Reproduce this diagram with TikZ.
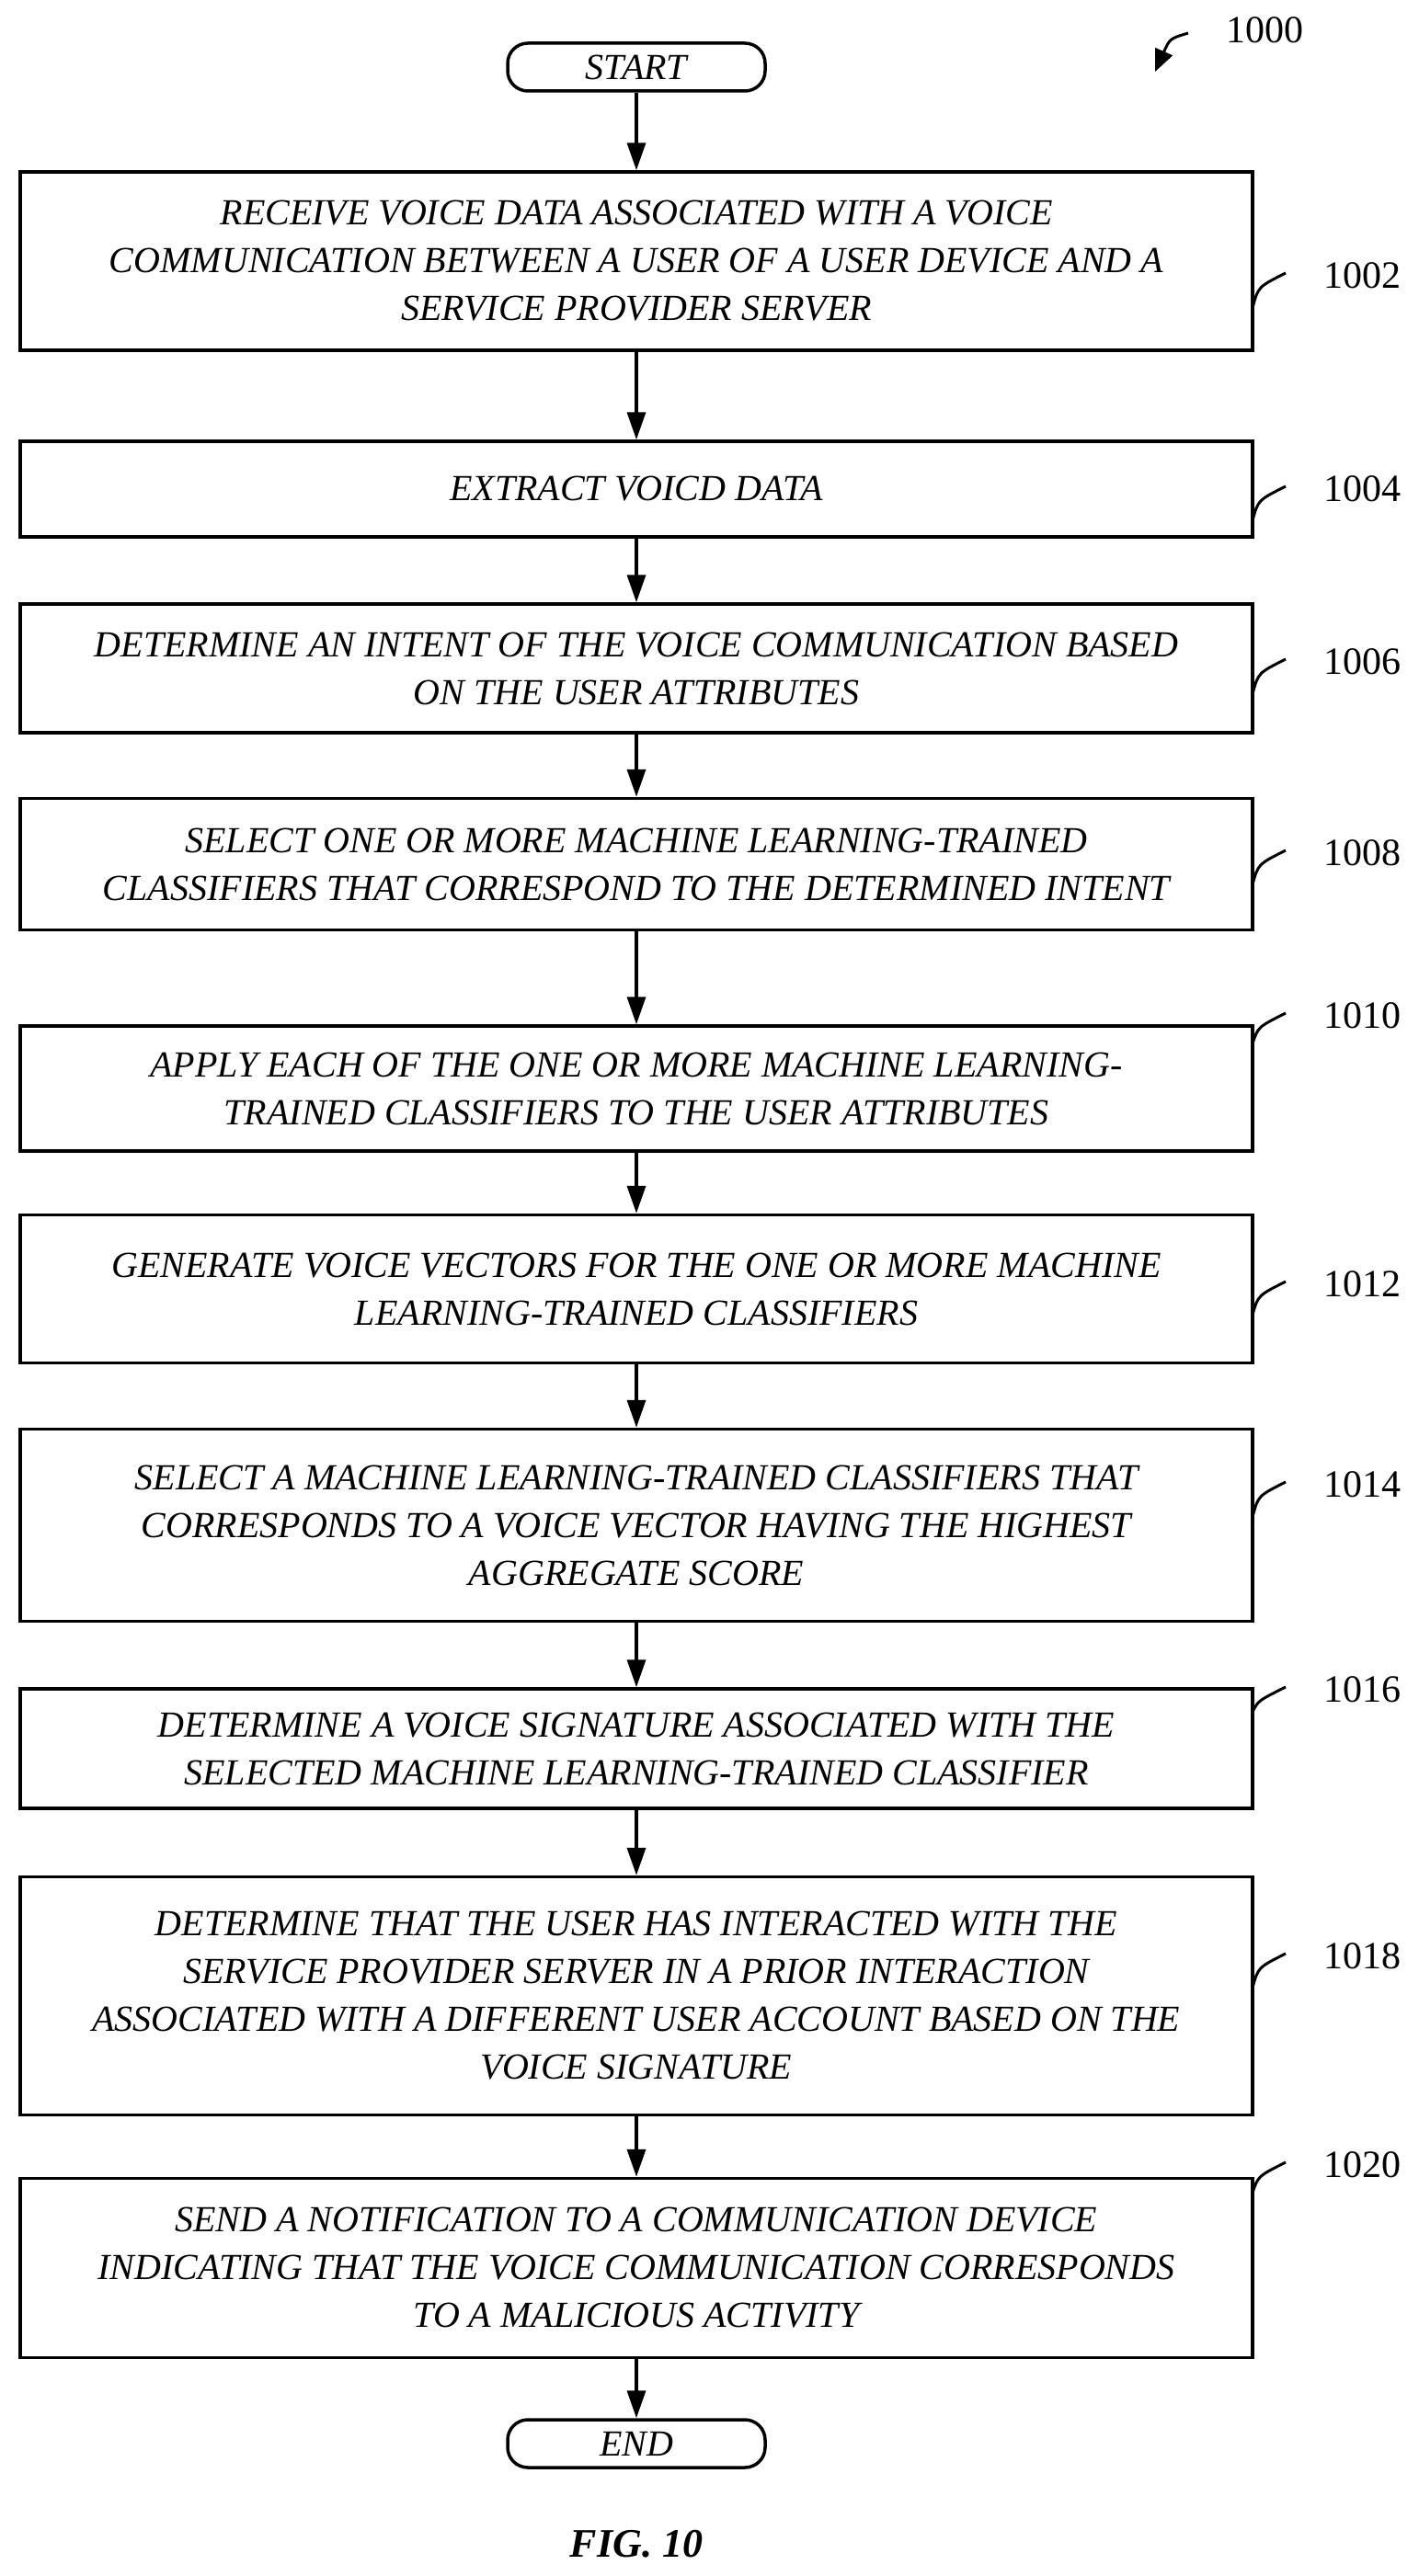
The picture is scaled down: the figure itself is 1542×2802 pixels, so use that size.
\documentclass[tikz,border=0pt]{standalone}
\usepackage{fontspec}
\setmainfont{Liberation Serif}
\usetikzlibrary{arrows.meta}
\begin{document}
\begin{tikzpicture}[x=1pt,y=-1pt,
  box/.style={draw,line width=3.5pt,minimum width=1340pt,align=center,inner sep=0pt,
    font=\fontsize{40}{52}\selectfont\itshape},
  term/.style={draw,line width=3.5pt,rounded corners=22pt,minimum width=280pt,minimum height=52pt,
    inner sep=0pt,font=\fontsize{40}{48}\selectfont\itshape},
  flow/.style={line width=3.5pt,-{Triangle[length=30pt,width=20pt]}},
  hook/.style={line width=3pt},
  lbl/.style={font=\fontsize{42}{48}\selectfont,anchor=west}]
\useasboundingbox (0,0) rectangle (1542,2802);
\node[term] (s) at (692,73) {START};
\node[box,minimum height=194pt] (b1) at (692,284) {RECEIVE VOICE DATA ASSOCIATED WITH A VOICE\\COMMUNICATION BETWEEN A USER OF A USER DEVICE AND A\\SERVICE PROVIDER SERVER};
\node[box,minimum height=104pt] (b2) at (692,532) {EXTRACT VOICD DATA};
\node[box,minimum height=140pt] (b3) at (692,727) {DETERMINE AN INTENT OF THE VOICE COMMUNICATION BASED\\ON THE USER ATTRIBUTES};
\node[box,minimum height=143pt] (b4) at (692,940) {SELECT ONE OR MORE MACHINE LEARNING-TRAINED\\CLASSIFIERS THAT CORRESPOND TO THE DETERMINED INTENT};
\node[box,minimum height=136pt] (b5) at (692,1184) {APPLY EACH OF THE ONE OR MORE MACHINE LEARNING-\\TRAINED CLASSIFIERS TO THE USER ATTRIBUTES};
\node[box,minimum height=161pt] (b6) at (692,1402) {GENERATE VOICE VECTORS FOR THE ONE OR MORE MACHINE\\LEARNING-TRAINED CLASSIFIERS};
\node[box,minimum height=209pt] (b7) at (692,1659) {SELECT A MACHINE LEARNING-TRAINED CLASSIFIERS THAT\\CORRESPONDS TO A VOICE VECTOR HAVING THE HIGHEST\\AGGREGATE SCORE};
\node[box,minimum height=130pt] (b8) at (692,1902) {DETERMINE A VOICE SIGNATURE ASSOCIATED WITH THE\\SELECTED MACHINE LEARNING-TRAINED CLASSIFIER};
\node[box,minimum height=259pt] (b9) at (692,2171) {DETERMINE THAT THE USER HAS INTERACTED WITH THE\\SERVICE PROVIDER SERVER IN A PRIOR INTERACTION\\ASSOCIATED WITH A DIFFERENT USER ACCOUNT BASED ON THE\\VOICE SIGNATURE};
\node[box,minimum height=195pt] (b10) at (692,2467) {SEND A NOTIFICATION TO A COMMUNICATION DEVICE\\INDICATING THAT THE VOICE COMMUNICATION CORRESPONDS\\TO A MALICIOUS ACTIVITY};
\node[term] (e) at (692,2658) {END};
\node[font=\fontsize{44}{50}\selectfont\bfseries\itshape] (fig) at (692,2767) {FIG. 10};
\draw[flow] (s) -- (b1);
\draw[flow] (b1) -- (b2);
\draw[flow] (b2) -- (b3);
\draw[flow] (b3) -- (b4);
\draw[flow] (b4) -- (b5);
\draw[flow] (b5) -- (b6);
\draw[flow] (b6) -- (b7);
\draw[flow] (b7) -- (b8);
\draw[flow] (b8) -- (b9);
\draw[flow] (b9) -- (b10);
\draw[flow] (b10) -- (e);
% 1000
\node[lbl] (l0) at (1330,33) {1000};
\coordinate (a0) at (1292,36);
\coordinate (a1) at (1256,78);
\draw[line width=3pt,-{Triangle[length=24pt,width=20pt]}] (a0) .. controls (1272,42) .. (a1);
% reference labels with hooks
\foreach \n/\ly/\sy in {1002/300/335,1004/532/566,1006/720/755,1008/928/962,1010/1105/1135,1012/1397/1430,1014/1615/1650,1016/1838/1862,1018/2128/2162,1020/2355/2385}{
  \node[lbl] (L\n) at (1436,\ly) {\n};
  \coordinate (H\n) at (1362,\sy);
  \coordinate (K\n) at (1398,\ly-3);
  \draw[hook] (H\n) .. controls (1368,\ly+12) .. (K\n);
}
\end{tikzpicture}
\end{document}
